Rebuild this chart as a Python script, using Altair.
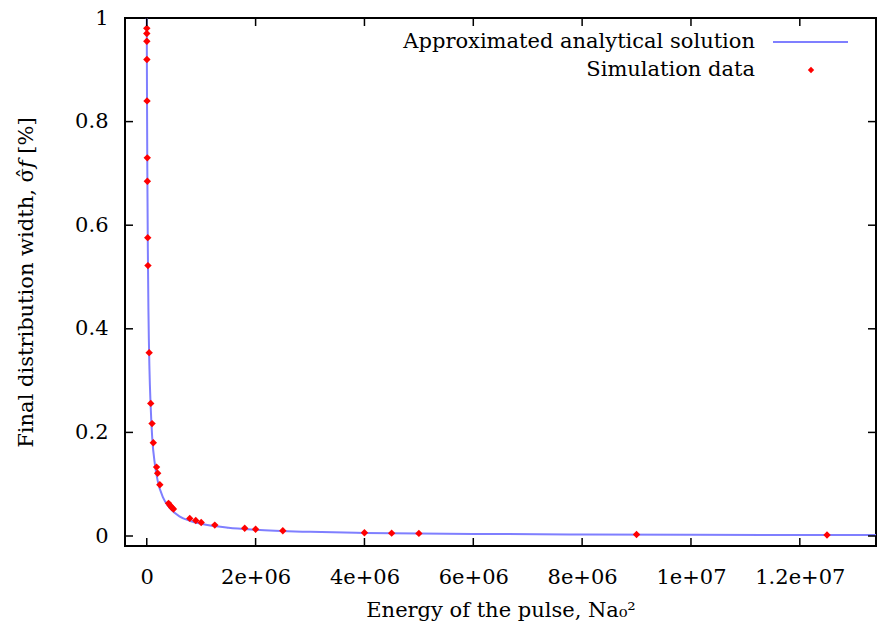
import altair as alt
import pandas as pd

# Simulation data
sim_x = [500, 750, 1100, 2100, 4600, 8900, 11000, 17700, 22000, 44000,
         73000, 97000, 120000, 180000, 200000, 240000,
         400000, 430000, 460000, 490000,
         790000, 900000, 1000000, 1250000, 1800000, 2000000, 2500000,
         4000000, 4500000, 5000000, 9000000, 12500000]
sim_y = [0.98, 0.97, 0.955, 0.92, 0.84, 0.73, 0.685, 0.576, 0.522, 0.354,
         0.256, 0.217, 0.18, 0.133, 0.121, 0.099,
         0.063, 0.059, 0.055, 0.052,
         0.034, 0.030, 0.026, 0.021, 0.015, 0.013, 0.010,
         0.0062, 0.0055, 0.005, 0.0028, 0.002]

# Approximated analytical solution
fit_x = [0, 2000, 5000, 10000, 20000, 30000, 50000, 70000, 100000, 150000,
         200000, 300000, 400000, 600000, 800000, 1000000, 1500000, 2000000,
         3000000, 4000000, 6000000, 8000000, 10000000, 12000000, 13400000]
fit_y = [1.0, 0.92, 0.83, 0.71, 0.55, 0.44, 0.32, 0.255, 0.19, 0.138,
         0.107, 0.074, 0.057, 0.038, 0.029, 0.0235, 0.0158, 0.0119,
         0.0080, 0.0060, 0.0040, 0.0030, 0.0024, 0.0020, 0.0018]

x_ticks = [0, 2000000, 4000000, 6000000, 8000000, 10000000, 12000000]
x_tick_labels = ["0", "2e+06", "4e+06", "6e+06", "8e+06", "1e+07", "1.2e+07"]
y_ticks = [0, 0.2, 0.4, 0.6, 0.8, 1.0]
y_tick_labels = ["0", "0.2", "0.4", "0.6", "0.8", "1"]

legend_labels = ["Approximated analytical solution", "Simulation data"]

W, H = 751, 528
FONT = "'DejaVu Serif', 'Liberation Serif', serif"
FS = 21
X_DOM = [-400000, 13400000]
Y_DOM = [-0.0193, 1.0]

sim_df = pd.DataFrame({"x": sim_x, "y": sim_y})
fit_df = pd.DataFrame({"x": fit_x, "y": fit_y})
xt_df = pd.DataFrame({"x": x_ticks})
yt_df = pd.DataFrame({"y": y_ticks})

def label_expr(vals, labels):
    expr = "''"
    for v, l in reversed(list(zip(vals, labels))):
        expr = f"abs(datum.value - {v}) < 1e-9 ? '{l}' : ({expr})"
    return expr

xscale = alt.Scale(domain=X_DOM, nice=False, zero=False)
yscale = alt.Scale(domain=Y_DOM, nice=False, zero=False)

x_axis = alt.Axis(values=x_ticks, labelExpr=label_expr(x_ticks, x_tick_labels),
                  ticks=False, domain=False, grid=False, labelFont=FONT,
                  labelFontSize=FS, labelColor="black", labelPadding=20,
                  title="Energy of the pulse, Na₀²", titleFont=FONT,
                  titleFontSize=FS, titleFontWeight="normal",
                  titleColor="black", titlePadding=12)
y_axis = alt.Axis(values=y_ticks, labelExpr=label_expr(y_ticks, y_tick_labels),
                  ticks=False, domain=False, grid=False, labelFont=FONT,
                  labelFontSize=FS, labelColor="black", labelPadding=17,
                  title="Final distribution width, σ̂𝑓  [%]", titleFont=FONT,
                  titleFontSize=FS, titleFontWeight="normal",
                  titleColor="black", titlePadding=38)

curve = alt.Chart(fit_df).mark_line(color="#7f7fff", strokeWidth=2, clip=True,
                                    interpolate="monotone").encode(
    x=alt.X("x:Q", scale=xscale, axis=x_axis),
    y=alt.Y("y:Q", scale=yscale, axis=y_axis),
)

points = alt.Chart(sim_df).mark_point(shape="diamond", filled=True, color="#ff0000",
                                      size=55, opacity=1, clip=True).encode(
    x=alt.X("x:Q", scale=xscale),
    y=alt.Y("y:Q", scale=yscale),
)

TL = 8
bottom_ticks = alt.Chart(xt_df).mark_rule(color="black", strokeWidth=1.5).encode(
    x=alt.X("x:Q", scale=xscale), y=alt.value(H), y2=alt.value(H - TL))
top_ticks = alt.Chart(xt_df).mark_rule(color="black", strokeWidth=1.5).encode(
    x=alt.X("x:Q", scale=xscale), y=alt.value(0), y2=alt.value(TL))
left_ticks = alt.Chart(yt_df).mark_rule(color="black", strokeWidth=1.5).encode(
    y=alt.Y("y:Q", scale=yscale), x=alt.value(0), x2=alt.value(TL))
right_ticks = alt.Chart(yt_df).mark_rule(color="black", strokeWidth=1.5).encode(
    y=alt.Y("y:Q", scale=yscale), x=alt.value(W - TL), x2=alt.value(W))

leg_text1 = alt.Chart(pd.DataFrame({"label": [legend_labels[0]]})).mark_text(
    align="right", baseline="middle", font=FONT, fontSize=FS, color="black").encode(
    text="label:N", x=alt.value(630), y=alt.value(24))
leg_text2 = alt.Chart(pd.DataFrame({"label": [legend_labels[1]]})).mark_text(
    align="right", baseline="middle", font=FONT, fontSize=FS, color="black").encode(
    text="label:N", x=alt.value(630), y=alt.value(52))
leg_line = alt.Chart(pd.DataFrame({"label": [legend_labels[0]]})).mark_rule(
    color="#7f7fff", strokeWidth=2).encode(
    x=alt.value(648), x2=alt.value(723), y=alt.value(24))
leg_pt = alt.Chart(pd.DataFrame({"label": [legend_labels[1]]})).mark_point(
    shape="diamond", filled=True, color="#ff0000", size=40, opacity=1).encode(
    x=alt.value(686), y=alt.value(52))

chart = alt.layer(curve, points, bottom_ticks, top_ticks, left_ticks, right_ticks,
                  leg_text1, leg_text2, leg_line, leg_pt).properties(
    width=W, height=H,
    autosize=alt.AutoSizeParams(type="none"),
    padding={"left": 125, "top": 18, "right": 1, "bottom": 90},
    background="white",
).configure_view(stroke="black", strokeWidth=2)

chart.save("out.html", embed_options={"renderer": "svg", "actions": False})
